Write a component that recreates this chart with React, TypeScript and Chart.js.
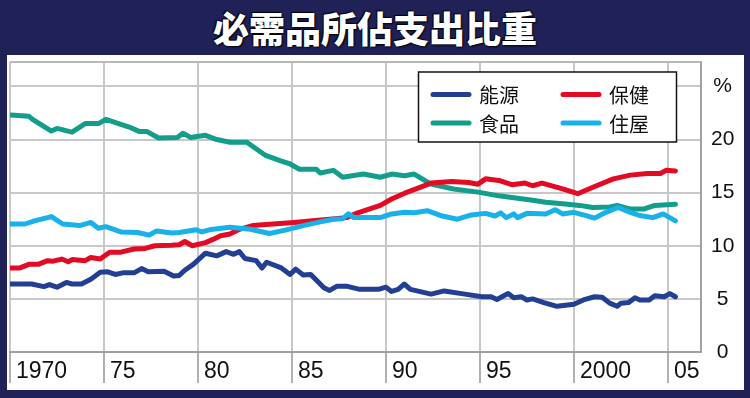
import React, { useEffect, useRef } from 'react';
import { Chart, registerables } from 'chart.js';

Chart.register(...registerables);

if (typeof document !== 'undefined') {
  document.body.style.margin = '0';
}

const TITLE = '必需品所佔支出比重';

const seriesNames = ['能源', '保健', '食品', '住屋'];
const seriesColors = ['#233f94', '#e30a24', '#129e8a', '#19b1ea'];

const xTickYears = [1970, 1975, 1980, 1985, 1990, 1995, 2000, 2005];
const xTickLabels = ['1970', '75', '80', '85', '90', '95', '2000', '05'];
const yTickValues = [0, 5, 10, 15, 20, 25];
const yTickLabels = ['0', '5', '10', '15', '20', '%'];

// 能源
const energyYears = [1970.05, 1971.15, 1971.8, 1972.1, 1972.5, 1973.0, 1973.3, 1973.8, 1974.3, 1974.8, 1975.2, 1975.6, 1976.0, 1976.6, 1977.0, 1977.35, 1978.2, 1978.7, 1979.0, 1979.3, 1979.75, 1980.4, 1981.0, 1981.5, 1981.9, 1982.2, 1982.5, 1983.1, 1983.4, 1983.65, 1984.4, 1984.9, 1985.2, 1985.6, 1986.0, 1986.7, 1987.0, 1987.4, 1987.9, 1988.6, 1989.6, 1990.0, 1990.3, 1990.65, 1990.97, 1991.3, 1992.4, 1993.1, 1994.2, 1995.1, 1995.6, 1995.9, 1996.5, 1996.8, 1997.2, 1997.5, 1997.8, 1998.4, 1999.1, 2000.0, 2000.5, 2001.1, 2001.5, 2001.9, 2002.3, 2002.5, 2002.9, 2003.25, 2003.5, 2004.0, 2004.3, 2004.8, 2005.1, 2005.4];
const energyValues = [6.4, 6.4, 6.15, 6.35, 6.1, 6.55, 6.4, 6.4, 6.85, 7.5, 7.55, 7.3, 7.45, 7.45, 7.85, 7.55, 7.6, 7.15, 7.2, 7.7, 8.25, 9.3, 9.05, 9.45, 9.2, 9.45, 8.8, 8.6, 7.9, 8.45, 7.95, 7.3, 7.8, 7.25, 7.3, 6.05, 5.8, 6.2, 6.2, 5.9, 5.9, 6.1, 5.7, 5.9, 6.4, 5.9, 5.45, 5.75, 5.45, 5.2, 5.2, 4.95, 5.5, 5.1, 5.2, 4.9, 5.0, 4.65, 4.3, 4.5, 4.9, 5.2, 5.15, 4.6, 4.3, 4.6, 4.65, 5.1, 4.9, 4.9, 5.3, 5.2, 5.5, 5.2];

// 保健
const healthYears = [1970.05, 1970.5, 1971.0, 1971.5, 1972.0, 1972.3, 1972.75, 1973.1, 1973.3, 1974.0, 1974.3, 1974.8, 1975.3, 1975.9, 1976.6, 1977.2, 1977.7, 1978.6, 1979.0, 1979.3, 1979.7, 1980.4, 1980.8, 1981.2, 1981.7, 1982.2, 1982.9, 1984.0, 1985.1, 1986.1, 1987.0, 1987.9, 1988.5, 1989.7, 1990.3, 1991.0, 1991.6, 1992.4, 1993.5, 1994.4, 1994.9, 1995.3, 1996.0, 1996.7, 1997.4, 1997.8, 1998.3, 1999.4, 2000.2, 2001.2, 2002.1, 2003.0, 2003.9, 2004.6, 2004.9, 2005.4];
const healthValues = [7.9, 7.9, 8.25, 8.25, 8.6, 8.55, 8.75, 8.5, 8.7, 8.6, 8.9, 8.75, 9.4, 9.4, 9.7, 9.75, 10.0, 10.05, 10.1, 10.4, 10.0, 10.3, 10.6, 10.95, 11.1, 11.55, 11.9, 12.05, 12.2, 12.35, 12.5, 12.65, 13.1, 13.8, 14.4, 14.95, 15.35, 15.9, 16.05, 15.95, 15.8, 16.3, 16.15, 15.75, 15.9, 15.65, 15.9, 15.35, 14.9, 15.65, 16.3, 16.65, 16.8, 16.8, 17.1, 17.05];

// 食品
const foodYears = [1970.05, 1971.0, 1971.2, 1972.2, 1972.5, 1973.3, 1974.0, 1974.7, 1975.1, 1976.3, 1976.9, 1977.3, 1977.9, 1978.9, 1979.2, 1979.6, 1980.4, 1981.0, 1981.7, 1982.6, 1983.6, 1984.4, 1984.9, 1985.4, 1986.3, 1986.5, 1987.2, 1987.7, 1988.8, 1989.7, 1990.3, 1991.0, 1991.5, 1992.4, 1993.6, 1994.9, 1996.0, 1997.7, 1998.5, 1999.4, 2000.3, 2001.0, 2001.9, 2002.3, 2003.0, 2003.7, 2004.3, 2005.4];
const foodValues = [22.3, 22.2, 21.9, 20.8, 21.05, 20.7, 21.5, 21.5, 21.9, 21.2, 20.75, 20.75, 20.15, 20.2, 20.6, 20.2, 20.4, 20.0, 19.75, 19.75, 18.5, 18.0, 17.7, 17.2, 17.2, 16.85, 17.1, 16.45, 16.75, 16.45, 16.75, 16.6, 16.75, 15.8, 15.35, 15.05, 14.7, 14.3, 14.1, 13.95, 13.8, 13.6, 13.65, 13.8, 13.45, 13.45, 13.8, 13.9];

// 住屋
const housingYears = [1970.05, 1970.8, 1971.3, 1972.0, 1972.2, 1972.8, 1973.7, 1974.3, 1974.7, 1975.1, 1975.9, 1976.8, 1977.4, 1977.8, 1978.6, 1979.0, 1979.9, 1980.2, 1980.6, 1981.7, 1982.8, 1983.8, 1984.7, 1985.6, 1986.5, 1987.2, 1987.7, 1988.0, 1988.3, 1989.7, 1990.3, 1991.0, 1991.5, 1992.2, 1993.0, 1993.8, 1994.55, 1995.3, 1995.8, 1996.1, 1996.4, 1996.8, 1997.0, 1997.5, 1998.5, 1999.0, 1999.4, 2000.0, 2000.5, 2001.1, 2001.7, 2002.35, 2003.0, 2003.5, 2004.2, 2004.75, 2005.4];
const housingValues = [12.05, 12.05, 12.35, 12.65, 12.75, 12.05, 11.9, 12.2, 11.65, 11.8, 11.3, 11.25, 11.0, 11.4, 11.2, 11.25, 11.5, 11.3, 11.5, 11.75, 11.55, 11.15, 11.5, 11.9, 12.25, 12.5, 12.55, 13.0, 12.65, 12.65, 13.0, 13.15, 13.1, 13.3, 12.8, 12.5, 12.9, 13.05, 12.8, 13.1, 12.65, 13.0, 12.65, 13.05, 13.0, 13.4, 13.0, 13.15, 12.9, 12.6, 13.15, 13.6, 13.15, 12.85, 12.65, 13.0, 12.35];

const seriesYears = [energyYears, healthYears, foodYears, housingYears];
const seriesValues = [energyValues, healthValues, foodValues, housingValues];
const drawOrder = [4, 2, 3, 1];

const NAVY = '#1f2157';
const LABEL_FONT = "'Liberation Sans', Arial, sans-serif";
const CJK_FONT = "'Noto Sans CJK TC', 'Noto Sans CJK SC', sans-serif";

const framePlugin = {
  id: 'frameExtras',
  beforeDatasetsDraw(chart: any) {
    const { ctx, chartArea } = chart;
    ctx.save();
    ctx.strokeStyle = '#b8b8b8';
    ctx.lineWidth = 2;
    ctx.beginPath();
    ctx.moveTo(chartArea.left, chartArea.top);
    ctx.lineTo(chartArea.right, chartArea.top);
    ctx.stroke();
    ctx.restore();
  },
  afterDatasetsDraw(chart: any) {
    const { ctx } = chart;
    ctx.save();
    const bx = 418.5, by = 72, bw = 258, bh = 70;
    ctx.fillStyle = '#ffffff';
    ctx.fillRect(bx, by, bw, bh);
    ctx.strokeStyle = '#111111';
    ctx.lineWidth = 1.5;
    ctx.strokeRect(bx, by, bw, bh);
    const cols = [431, 561];
    const rows = [94.5, 123];
    [0, 1, 2, 3].forEach((si, k) => {
      const cx = cols[k % 2];
      const cy = rows[Math.floor(k / 2)];
      ctx.strokeStyle = seriesColors[si];
      ctx.lineWidth = 5;
      ctx.lineCap = 'round';
      ctx.beginPath();
      ctx.moveTo(cx + 2, cy);
      ctx.lineTo(cx + 38, cy);
      ctx.stroke();
      ctx.fillStyle = '#111111';
      ctx.font = `20px ${CJK_FONT}`;
      ctx.textAlign = 'left';
      ctx.textBaseline = 'middle';
      ctx.fillText(seriesNames[si], cx + 48, cy + 1);
    });
    ctx.restore();
  },
};

export default function App() {
  const canvasRef = useRef<HTMLCanvasElement | null>(null);

  useEffect(() => {
    document.body.style.margin = '0';
    const canvas = canvasRef.current;
    if (!canvas) return;
    const datasets = seriesNames.map((name, i) => ({
      label: name,
      data: seriesYears[i].map((yr, j) => ({ x: yr, y: seriesValues[i][j] })),
      borderColor: seriesColors[i],
      backgroundColor: seriesColors[i],
      borderWidth: 5,
      pointRadius: 0,
      tension: 0,
      borderCapStyle: 'round' as const,
      borderJoinStyle: 'round' as const,
      fill: false,
      order: drawOrder[i],
    }));
    const chart = new Chart(canvas, {
      type: 'line',
      data: { datasets },
      options: {
        animation: false,
        responsive: false,
        maintainAspectRatio: false,
        parsing: false as any,
        layout: { padding: { left: 10, top: 62, right: 9, bottom: 0 } },
        plugins: { legend: { display: false }, tooltip: { enabled: false }, title: { display: false } },
        scales: {
          x: {
            type: 'linear',
            min: 1970,
            max: 2006.76,
            afterBuildTicks: (s: any) => {
              s.ticks = xTickYears.map((v) => ({ value: v }));
            },
            afterFit: (s: any) => {
              s.height = 46;
            },
            ticks: {
              callback: (v: any) => xTickLabels[xTickYears.indexOf(Number(v))],
              align: 'start',
              labelOffset: 6,
              padding: -25,
              maxRotation: 0,
              autoSkip: false,
              color: '#111111',
              font: { family: LABEL_FONT, size: 23 },
            },
            grid: {
              color: '#c8c8c8',
              lineWidth: 2,
              drawTicks: true,
              tickLength: 31,
              tickColor: '#b0b0b0',
              tickWidth: 2,
            },
            border: { display: true, color: '#a0a0a0', width: 2 },
          },
          y: {
            type: 'linear',
            position: 'right',
            min: 0,
            max: 27.3,
            afterBuildTicks: (s: any) => {
              s.ticks = yTickValues.map((v) => ({ value: v }));
            },
            afterFit: (s: any) => {
              s.width = 40;
            },
            ticks: {
              callback: (v: any) => yTickLabels[yTickValues.indexOf(Number(v))],
              crossAlign: 'center',
              padding: 10,
              color: '#111111',
              font: { family: LABEL_FONT, size: 21 },
            },
            grid: { color: '#c8c8c8', lineWidth: 2, drawTicks: false },
            border: { display: true, color: '#a0a0a0', width: 2 },
          },
        },
      } as any,
      plugins: [framePlugin],
    });
    return () => chart.destroy();
  }, []);

  return (
    <div style={{ position: 'relative', width: 750, height: 398, background: NAVY, overflow: 'hidden' }}>
      <div
        style={{
          position: 'absolute',
          left: 0,
          top: 0,
          width: 750,
          height: 55,
          display: 'flex',
          alignItems: 'center',
          justifyContent: 'center',
          color: '#ffffff',
          fontFamily: CJK_FONT,
          fontWeight: 900,
          fontSize: 36,
          lineHeight: '55px',
          textShadow: '1px 1px 2px #000, -1px -1px 1px #000',
        }}
      >
        {TITLE}
      </div>
      <div style={{ position: 'absolute', left: 7, top: 55, width: 737, height: 335, background: '#ffffff' }} />
      <canvas ref={canvasRef} width={750} height={398} style={{ position: 'absolute', left: 0, top: 0, width: 750, height: 398 }} />
    </div>
  );
}
